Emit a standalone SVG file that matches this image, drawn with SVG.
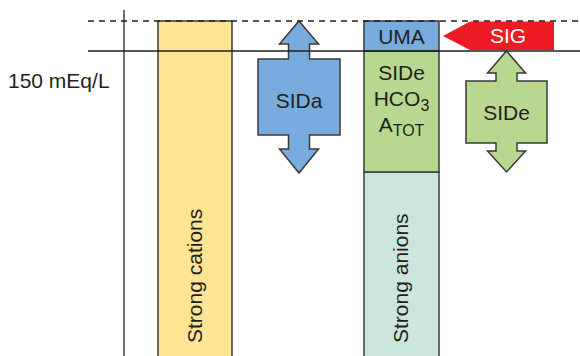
<svg xmlns="http://www.w3.org/2000/svg" width="580" height="356" viewBox="0 0 580 356">
<style>
text{font-family:"Liberation Sans",Arial,sans-serif;font-size:21px;fill:#231f20}
.box{stroke:#3a3a3a;stroke-width:1.5}
.line{stroke:#231f20;stroke-width:1.3;fill:none}
.sub{font-size:16px}
</style>
<rect width="580" height="356" fill="#fff"/>
<g id="strong-cations">
<rect class="box" x="158" y="21" width="74" height="340" fill="#FEE493"/>
<text transform="translate(202,343) rotate(-90)">Strong cations</text>
</g>
<g id="strong-anions">
<rect class="box" x="364" y="172" width="75" height="190" fill="#CAE6DD"/>
<text transform="translate(408,343) rotate(-90)">Strong anions</text>
</g>
<g id="side-box">
<rect class="box" x="364" y="51" width="75" height="121" fill="#B8D88F"/>
<text x="401.5" y="80" text-anchor="middle">SIDe</text>
<text x="401.5" y="106" text-anchor="middle">HCO<tspan class="sub" dy="5">3</tspan></text>
<text x="401.5" y="132" text-anchor="middle">A<tspan class="sub" dy="3.5">TOT</tspan></text>
</g>
<g id="uma">
<rect class="box" x="364" y="21" width="75" height="30" fill="#78ACDE"/>
<text x="401.5" y="44" text-anchor="middle">UMA</text>
</g>
<g id="sida">
<polygon class="box" fill="#78ACDE" points="299,21 318.5,44 309.5,44 309.5,59 340,59 340,135 309.5,135 309.5,149 318.5,149 299,173 279.5,149 288.5,149 288.5,135 258,135 258,59 288.5,59 288.5,44 279.5,44"/>
<text x="299" y="108" text-anchor="middle">SIDa</text>
</g>
<g id="sig">
<polygon fill="#ED1C24" points="443,36 470,21.5 554,21.5 554,50 470,50"/>
<text x="508" y="43" text-anchor="middle" style="fill:#fff">SIG</text>
</g>
<g id="side-arrow">
<polygon class="box" fill="#B8D88F" points="506.5,51 525.5,73 517,73 517,81 547,81 547,143 517,143 517,151 525.5,151 506.5,172 487.5,151 496,151 496,143 466,143 466,81 496,81 496,73 487.5,73"/>
<text x="506.5" y="120" text-anchor="middle">SIDe</text>
</g>
<g id="guides">
<line class="line" x1="124" y1="10" x2="124" y2="356"/>
<line class="line" x1="88" y1="21" x2="580" y2="21" stroke-dasharray="6,5"/>
<line class="line" x1="88" y1="51" x2="580" y2="51"/>
</g>
<g id="label-150">
<text x="8" y="88">150 mEq/L</text>
</g>
</svg>
